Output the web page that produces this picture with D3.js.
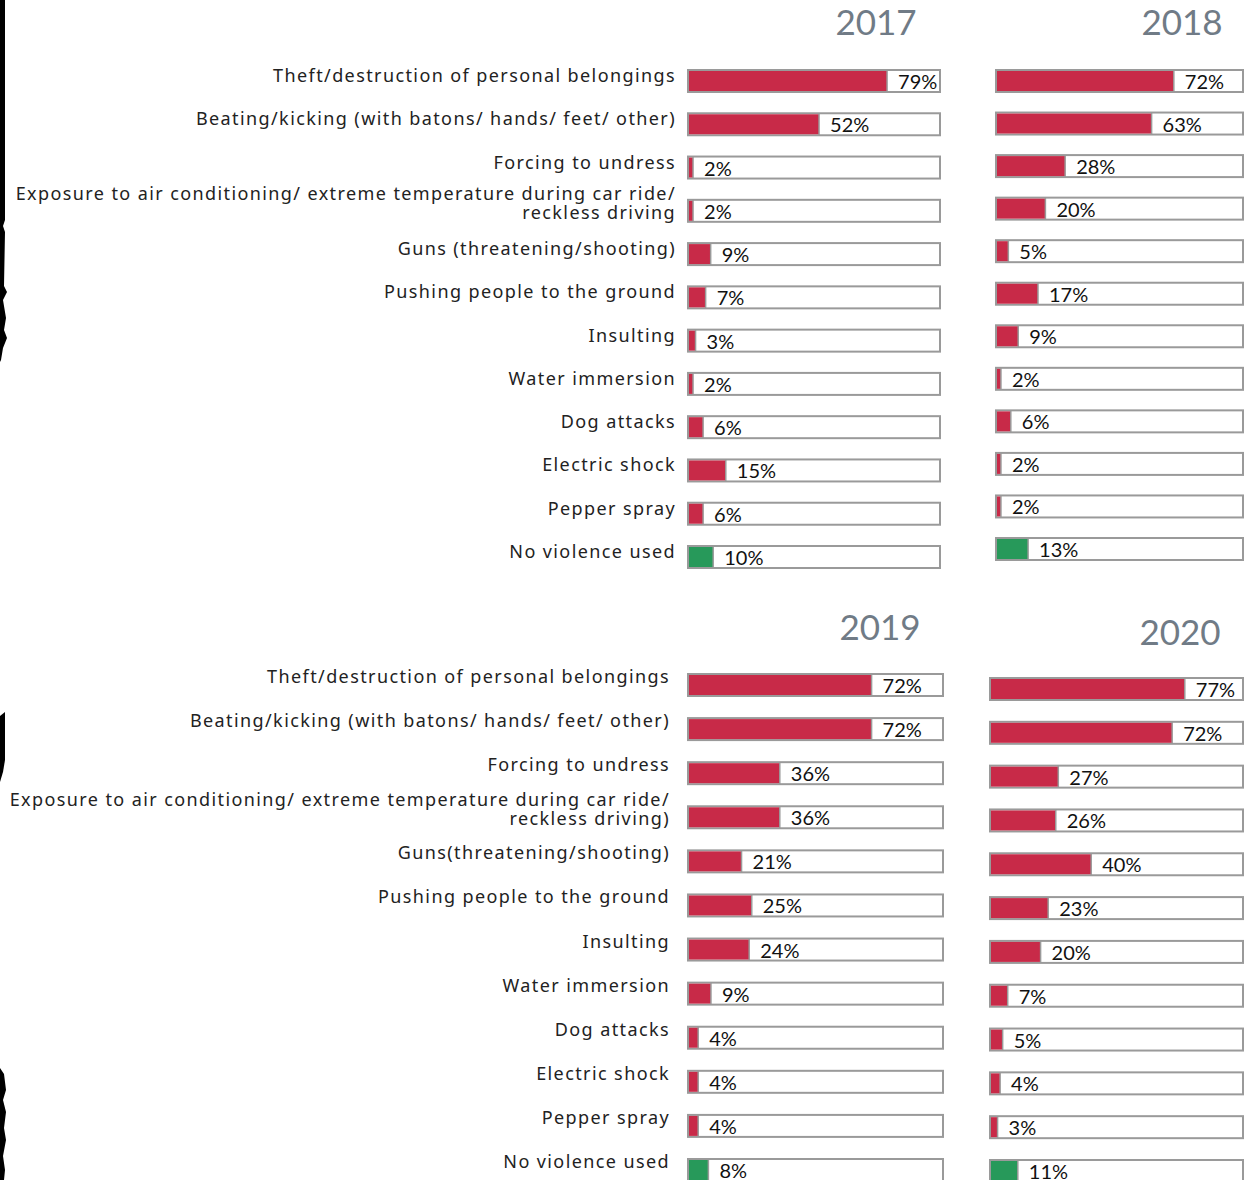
<!DOCTYPE html>
<html>
<head>
<meta charset="utf-8">
<script src="https://cdn.jsdelivr.net/npm/d3@7"></script>
<style>
  body { margin: 0; background: #fff; }
  .cat { font-family: "Noto Sans", sans-serif; font-size: 18px; letter-spacing: 1.4px; fill: #222; }
  .pct { font-family: Lato, sans-serif; font-size: 20px; fill: #111; }
  .year { font-family: Lato, sans-serif; font-size: 35px; fill: #707b86; }
</style>
</head>
<body>
<script>
const categoriesTop = [
  'Theft/destruction of personal belongings',
  'Beating/kicking (with batons/ hands/ feet/ other)',
  'Forcing to undress',
  'Exposure to air conditioning/ extreme temperature during car ride/\nreckless driving',
  'Guns (threatening/shooting)',
  'Pushing people to the ground',
  'Insulting',
  'Water immersion',
  'Dog attacks',
  'Electric shock',
  'Pepper spray',
  'No violence used'
];
const categoriesBottom = [
  'Theft/destruction of personal belongings',
  'Beating/kicking (with batons/ hands/ feet/ other)',
  'Forcing to undress',
  'Exposure to air conditioning/ extreme temperature during car ride/\nreckless driving)',
  'Guns(threatening/shooting)',
  'Pushing people to the ground',
  'Insulting',
  'Water immersion',
  'Dog attacks',
  'Electric shock',
  'Pepper spray',
  'No violence used'
];

const years = ['2017', '2018', '2019', '2020'];
const values2017 = [79, 52, 2, 2, 9, 7, 3, 2, 6, 15, 6, 10];
const values2018 = [72, 63, 28, 20, 5, 17, 9, 2, 6, 2, 2, 13];
const values2019 = [72, 72, 36, 36, 21, 25, 24, 9, 4, 4, 4, 8];
const values2020 = [77, 72, 27, 26, 40, 23, 20, 7, 5, 4, 3, 11];

const red = '#c82a48';
const green = '#27995a';
const border = '#9a9a9a';

const W = 1250, H = 1180;

const svg = d3.select('body').append('svg')
  .attr('width', W)
  .attr('height', H);

// panel layout (box extents, first/last row centres, title position)
const panels = [
  { year: years[0], values: values2017, x: [688, 940], y: [81, 557], title: [876, 35] },
  { year: years[1], values: values2018, x: [996, 1243], y: [81, 549], title: [1182, 35] },
  { year: years[2], values: values2019, x: [688, 943], y: [685, 1170], title: [880, 640] },
  { year: years[3], values: values2020, x: [990, 1243], y: [689, 1171], title: [1180, 645] }
];

const barH = 22;

panels.forEach(p => {
  const x = d3.scaleLinear().domain([0, 100]).range(p.x);
  const y = d3.scalePoint().domain(d3.range(p.values.length)).range(p.y);
  const g = svg.append('g');

  g.append('text')
    .attr('class', 'year')
    .attr('x', p.title[0])
    .attr('y', p.title[1])
    .attr('text-anchor', 'middle')
    .text(p.year);

  const rows = g.selectAll('.row')
    .data(p.values)
    .enter()
    .append('g')
    .attr('class', 'row')
    .attr('transform', (d, i) => `translate(0,${y(i) - barH / 2})`);

  rows.append('rect')
    .attr('x', x(0))
    .attr('width', x(100) - x(0))
    .attr('height', barH)
    .attr('fill', '#fff')
    .attr('stroke', border)
    .attr('stroke-width', 2);

  rows.append('rect')
    .attr('x', x(0) + 1)
    .attr('y', 1)
    .attr('width', d => Math.max(0, x(d) - x(0) - 1))
    .attr('height', barH - 2)
    .attr('fill', (d, i) => i === p.values.length - 1 ? green : red);

  rows.append('line')
    .attr('x1', d => x(d))
    .attr('x2', d => x(d))
    .attr('y1', 0)
    .attr('y2', barH)
    .attr('stroke', border)
    .attr('stroke-width', 1.5);

  rows.append('text')
    .attr('class', 'pct')
    .attr('x', d => x(d) + 11)
    .attr('y', barH / 2 + 8)
    .text(d => d + '%');
});

// category labels, one column per row of panels
function drawLabels(cats, yRange, right, base) {
  const y = d3.scalePoint().domain(d3.range(cats.length)).range(yRange);
  const t = svg.append('g').selectAll('.cat')
    .data(cats)
    .enter()
    .append('text')
    .attr('class', 'cat')
    .attr('text-anchor', 'end')
    .attr('x', right)
    .attr('y', (d, i) => y(i) + base);

  t.each(function(d) {
    const lines = d.split('\n');
    const sel = d3.select(this);
    if (lines.length === 1) {
      sel.text(d);
    } else {
      sel.attr('y', +sel.attr('y') - base);
      lines.forEach((l, k) => {
        sel.append('tspan')
          .attr('x', right)
          .attr('dy', k === 0 ? -11 : 19)
          .text(l);
      });
    }
  });
}

drawLabels(categoriesTop, [81, 557], 676, 1);
drawLabels(categoriesBottom, [685, 1170], 670, -2);

// black torn-paper edge on the far left
const edge = svg.append('g').attr('fill', '#000');
edge.append('path')
  .attr('d', 'M0,0 L5,0 L5,220 L3,226 L5,232 L4,286 L7,292 L3,300 L6,318 L4,330 L7,338 L3,348 L1,360 L0,362 Z');
edge.append('path')
  .attr('d', 'M0,716 L5,712 L5,760 L3,772 L0,782 Z');
edge.append('path')
  .attr('d', 'M0,1068 L4,1074 L6,1090 L3,1100 L6,1112 L4,1128 L6,1140 L3,1156 L5,1170 L4,1180 L0,1180 Z');
</script>
</body>
</html>
